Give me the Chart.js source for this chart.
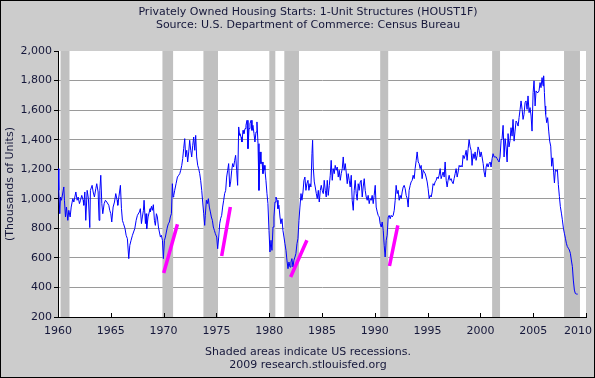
<!DOCTYPE html>
<html><head><meta charset="utf-8">
<script src="https://cdn.jsdelivr.net/npm/chart.js@4.4.1/dist/chart.umd.min.js"></script>
<style>html,body{margin:0;padding:0;background:#cccccc;}canvas{display:block;}</style>
</head><body>
<canvas id="c" width="595" height="378"></canvas>
<script>
// ---- text ----
const titleLines = ['Privately Owned Housing Starts: 1-Unit Structures (HOUST1F)', 'Source: U.S. Department of Commerce: Census Bureau'];
const footerLines = ['Shaded areas indicate US recessions.', '2009 research.stlouisfed.org'];
const yAxisTitle = '(Thousands of Units)';

// ---- ticks ----
const xTickYears = [1960, 1965, 1970, 1975, 1980, 1985, 1990, 1995, 2000, 2005, 2010];
const xTickLabels = ['1960', '1965', '1970', '1975', '1980', '1985', '1990', '1995', '2000', '2005', '2010'];
const yTickValues = [200, 400, 600, 800, 1000, 1200, 1400, 1600, 1800, 2000];
const yTickLabels = ['200', '400', '600', '800', '1,000', '1,200', '1,400', '1,600', '1,800', '2,000'];

// ---- recessions (decimal years) ----
const recessionStart = [1960.24, 1969.89, 1973.77, 1980.01, 1981.43, 1990.51, 2001.11, 2007.92];
const recessionEnd   = [1961.09, 1970.90, 1975.15, 1980.58, 1982.82, 1991.27, 2001.86, 2009.43];

// ---- magenta trend strokes ----
const trendStartYear  = [1970.01, 1975.50, 1982.03, 1991.39];
const trendStartValue = [498, 613, 471, 545];
const trendEndYear    = [1971.31, 1976.32, 1983.57, 1992.18];
const trendEndValue   = [827, 944, 719, 820];

// ---- housing starts series (decimal year, thousands of units) ----
const dates = [
1960.02,1960.08,1960.17,1960.24,1960.33,1960.55,1960.61,1960.71,1960.80,1960.93,1961.02,1961.15,1961.25,1961.40,1961.50,1961.69,1961.81,1961.91,1962.03,1962.13,1962.25,1962.38,1962.44,1962.54,1962.63,1962.76,1962.88,1963.01,1963.07,1963.23,1963.33,1963.45,1963.58,1963.67,1963.80,1963.89,1963.96,1964.05,1964.15,1964.24,1964.37,1964.49,1964.62,1964.81,1964.90,1965.00,1965.09,1965.22,1965.35,1965.47,1965.60,1965.66,1965.91,1966.01,1966.10,1966.20,1966.35,1966.45,1966.57,1966.70,1966.80,1966.92,1967.05,1967.27,1967.40,1967.52,1967.71,1967.80,1967.90,1967.99,1968.09,1968.15,1968.28,1968.34,1968.40,1968.53,1968.72,
1968.75,1968.85,1968.94,1969.03,1969.13,1969.22,1969.32,1969.41,1969.51,1969.60,1969.70,1969.79,1969.89,1969.98,1970.08,1970.17,1970.26,1970.36,1970.45,1970.55,1970.64,1970.74,1970.83,1970.90,1970.96,1971.05,1971.18,1971.31,1971.43,1971.53,1971.62,1971.72,1971.81,1971.90,1972.00,1972.09,1972.19,1972.28,1972.38,1972.47,1972.57,1972.66,1972.76,1972.85,1972.95,1973.04,1973.13,1973.23,1973.32,1973.42,1973.51,1973.61,1973.70,1973.80,1973.89,1973.95,1974.05,1974.14,1974.24,1974.33,1974.43,1974.52,1974.62,1974.71,1974.81,1974.90,1975.03,1975.12,1975.22,1975.31,1975.40,1975.50,1975.59,1975.69,1975.78,1975.88,1975.97,1976.07,1976.16,1976.26,1976.35,1976.45,1976.54,1976.63,1976.73,1976.82,1976.92,1977.01,1977.11,1977.20,
1977.23,1977.33,1977.42,1977.52,1977.61,1977.71,1977.80,1977.90,1977.99,1978.09,1978.18,1978.28,1978.37,1978.46,1978.56,1978.65,1978.75,1978.84,1978.94,1979.03,1979.13,1979.22,1979.32,1979.41,1979.51,1979.60,1979.69,1979.79,1979.88,1979.98,1980.07,1980.17,1980.26,1980.36,1980.45,1980.55,1980.64,1980.74,1980.83,1980.92,1981.02,1981.11,1981.21,1981.30,1981.40,1981.49,1981.59,1981.68,1981.78,1981.87,1981.97,1982.06,1982.15,1982.25,1982.34,1982.44,1982.53,1982.63,1982.72,1982.82,1982.91,1983.01,1983.10,1983.20,1983.29,1983.38,1983.48,1983.57,1983.67,1983.76,1983.86,1983.95,1984.05,1984.11,1984.17,1984.27,1984.36,1984.46,1984.55,1984.65,1984.74,1984.84,1984.93,1985.02,1985.12,1985.21,1985.31,1985.40,1985.50,1985.59,1985.69,1985.78,
1985.87,1985.97,1986.06,1986.16,1986.25,1986.35,1986.44,1986.54,1986.63,1986.73,1986.82,1986.92,1987.01,1987.10,1987.20,1987.29,1987.39,1987.48,1987.58,1987.67,1987.77,1987.86,1987.96,1988.05,1988.14,1988.24,1988.33,1988.43,1988.52,1988.62,1988.71,1988.81,1988.90,1989.00,1989.09,1989.19,1989.28,1989.37,1989.47,1989.56,1989.66,1989.75,1989.85,1989.94,1990.04,1990.13,1990.23,1990.32,1990.42,1990.51,1990.61,1990.70,1990.80,1990.89,1990.98,1991.08,1991.17,1991.27,1991.36,1991.46,1991.55,1991.65,1991.74,1991.84,1991.93,1992.02,1992.12,1992.21,1992.31,1992.40,1992.50,1992.59,1992.69,1992.78,1992.88,1992.97,1993.07,1993.16,1993.25,1993.35,1993.44,1993.54,1993.63,1993.73,1993.82,1993.92,1994.01,1994.11,1994.20,1994.29,
1994.39,1994.48,1994.58,1994.67,1994.77,1994.86,1994.96,1995.05,1995.15,1995.24,1995.34,1995.43,1995.52,1995.62,1995.71,1995.81,1995.90,1996.00,1996.09,1996.19,1996.28,1996.38,1996.47,1996.57,1996.66,1996.76,1996.85,1996.94,1997.04,1997.13,1997.23,1997.32,1997.42,1997.51,1997.61,1997.70,1997.80,1997.89,1997.99,1998.08,1998.17,1998.27,1998.36,1998.46,1998.55,1998.65,1998.74,1998.84,1998.93,1999.03,1999.12,1999.21,1999.31,1999.40,1999.50,1999.59,1999.69,1999.78,1999.88,1999.97,2000.07,2000.16,2000.26,2000.35,2000.45,2000.54,2000.63,2000.73,2000.82,2000.92,2001.01,2001.11,2001.20,2001.30,2001.39,2001.49,2001.58,2001.67,2001.77,2001.86,2001.96,2002.05,2002.15,2002.24,2002.34,2002.43,2002.53,2002.62,2002.71,2002.81,
2002.90,2003.00,2003.09,2003.19,2003.28,2003.38,2003.47,2003.57,2003.66,2003.76,2003.85,2003.95,2004.04,2004.13,2004.23,2004.32,2004.42,2004.51,2004.61,2004.70,2004.80,2004.89,2004.99,2005.08,2005.18,2005.27,2005.36,2005.46,2005.55,2005.65,2005.74,2005.84,2005.93,2005.99,2006.06,2006.12,2006.18,2006.28,2006.37,2006.47,2006.56,2006.66,2006.75,2006.85,2006.94,2007.01,2007.10,2007.19,2007.29,2007.38,2007.48,2007.57,2007.67,2007.76,2007.86,2007.95,2008.05,2008.14,2008.23,2008.33,2008.42,2008.52,2008.61,2008.71,2008.80,2008.90,2008.99,2009.12,2009.21
];
const starts = [
1204,1057,899,1012,990,1080,990,877,944,854,922,877,944,1001,978,1046,990,1012,967,990,1023,990,956,1046,854,1057,1001,805,1057,1091,1046,1012,1068,1102,1046,854,1057,1159,967,899,967,990,978,956,922,899,843,944,978,1035,990,956,1091,933,854,832,798,753,730,595,685,719,753,798,854,888,911,933,832,877,922,990,832,899,798,877,933,
911,949,922,960,854,820,899,877,809,775,741,753,719,595,719,741,775,809,831,843,877,899,1102,1012,1023,1057,1102,1147,1159,1170,1193,1226,1272,1339,1407,1283,1328,1249,1317,1396,1328,1283,1362,1418,1328,1429,1283,1226,1204,1170,1125,1057,978,899,820,888,990,967,1001,944,911,877,854,809,786,764,741,662,741,831,865,888,944,990,1035,1057,1147,1193,1238,1080,1114,1193,1238,1215,1260,1294,1193,1091,1486,1429,
1441,1418,1384,1463,1441,1475,1497,1531,1339,1475,1508,1531,1463,1497,1441,1384,1452,1520,1373,1057,1317,1238,1249,1170,1226,1193,1125,1035,967,786,640,719,651,809,877,978,1012,990,933,956,877,831,865,786,741,696,651,584,527,572,538,572,595,538,584,606,629,696,730,854,944,1035,990,1046,1125,1147,1057,1102,1125,1057,1102,1080,1305,1396,1215,1114,1080,1035,1001,1057,978,1057,1091,1057,1035,1125,1057,1012,1125,1023,1091,1159,
1260,1125,1204,1170,1226,1193,1215,1147,1193,1125,1170,1204,1283,1193,1238,1181,1102,1170,1125,1080,1159,990,922,1057,1125,1035,990,1102,1057,1114,1125,1012,1080,1136,1057,1012,990,1023,967,1001,990,1023,967,1023,1091,944,911,888,877,831,809,843,786,685,606,719,753,877,888,865,888,877,888,922,990,1091,1035,1057,990,1023,1001,1046,1080,1091,1068,1023,1001,944,1057,1091,1114,1125,1159,1136,1204,1260,1317,1249,1238,1204,
1226,1136,1193,1181,1170,1147,1114,1068,1001,1023,1012,1046,1102,1091,1114,1125,1147,1136,1159,1204,1136,1159,1181,1147,1249,1125,1080,1125,1159,1125,1136,1114,1102,1136,1170,1204,1147,1181,1226,1215,1226,1215,1294,1272,1294,1328,1260,1339,1400,1351,1328,1226,1305,1272,1317,1260,1294,1351,1328,1283,1317,1283,1238,1181,1147,1215,1238,1215,1238,1249,1215,1272,1305,1283,1283,1283,1272,1260,1249,1283,1396,1407,1497,1283,1407,1351,1249,1441,1351,1396,
1481,1424,1537,1390,1458,1526,1515,1492,1549,1605,1662,1605,1537,1571,1651,1662,1605,1696,1583,1617,1560,1458,1719,1798,1628,1730,1719,1719,1730,1786,1752,1820,1764,1832,1719,1628,1571,1515,1549,1458,1390,1356,1220,1277,1175,1107,1197,1186,1197,1096,1016,948,903,858,801,767,733,699,677,665,654,631,586,541,450,382,359,355,355
];

// ---- styles ----
const TEXT = '#15173a';
const FONT = '11px "DejaVu Sans", Verdana, sans-serif';
const BG = '#cccccc';
const BAND = '#c0c0c0';
const GRID = '#9a9a9a';
const TEXT_CENTER_X = 308;

const seriesPoints = dates.map((d, i) => ({ x: d, y: starts[i] }));
const trendPoints = [];
trendStartYear.forEach((x0, i) => {
  trendPoints.push({ x: x0, y: trendStartValue[i] });
  trendPoints.push({ x: trendEndYear[i], y: trendEndValue[i] });
  trendPoints.push({ x: trendEndYear[i] + 0.01, y: null });
});

const decor = {
  id: 'decor',
  beforeDraw(chart) {
    const { ctx, chartArea: a, width, height } = chart;
    ctx.save();
    ctx.fillStyle = BG;
    ctx.fillRect(0, 0, width, height);
    ctx.fillStyle = '#ffffff';
    ctx.fillRect(a.left, a.top, a.right - a.left, a.bottom - a.top);
    ctx.restore();
  },
  beforeDatasetsDraw(chart) {
    const { ctx, chartArea: a, scales: { x } } = chart;
    ctx.save();
    ctx.fillStyle = BAND;
    recessionStart.forEach((s, i) => {
      const x0 = Math.max(a.left + 1, x.getPixelForValue(s));
      const x1 = Math.min(a.right, x.getPixelForValue(recessionEnd[i]));
      ctx.fillRect(x0, a.top, x1 - x0, a.bottom - a.top);
    });
    ctx.restore();
  },
  afterDraw(chart) {
    const { ctx, chartArea: a, scales: { x }, width, height } = chart;
    ctx.save();
    // inward x ticks
    ctx.strokeStyle = '#000';
    ctx.lineWidth = 1;
    xTickYears.forEach(v => {
      const px = Math.round(x.getPixelForValue(v)) + 0.5;
      ctx.beginPath();
      ctx.moveTo(px, a.bottom);
      ctx.lineTo(px, a.bottom - 4);
      ctx.stroke();
    });
    // texts
    ctx.fillStyle = TEXT;
    ctx.font = FONT;
    ctx.textBaseline = 'alphabetic';
    ctx.textAlign = 'center';
    xTickYears.forEach((v, i) => {
      const w = ctx.measureText(xTickLabels[i]).width;
      const px = Math.min(x.getPixelForValue(v), width - 3 - w / 2);
      ctx.fillText(xTickLabels[i], px, a.bottom + 17);
    });
    ctx.fillText(titleLines[0], TEXT_CENTER_X, 15);
    ctx.fillText(titleLines[1], TEXT_CENTER_X, 28);
    ctx.fillText(footerLines[0], TEXT_CENTER_X, 355);
    ctx.fillText(footerLines[1], TEXT_CENTER_X, 368);
    // outer frame
    ctx.strokeStyle = '#000';
    ctx.strokeRect(0.5, 0.5, width - 1, height - 1);
    ctx.restore();
  }
};

new Chart(document.getElementById('c'), {
  type: 'line',
  data: {
    datasets: [
      { data: trendPoints, borderColor: '#ff00ff', borderWidth: 3.5, pointRadius: 0, spanGaps: false, tension: 0, borderCapStyle: 'butt' },
      { data: seriesPoints, borderColor: '#0000ff', borderWidth: 1, pointRadius: 0, tension: 0 }
    ]
  },
  options: {
    responsive: false,
    animation: false,
    devicePixelRatio: 1,
    parsing: false,
    events: [],
    layout: { padding: { top: 51, right: 9, bottom: 0, left: 0 } },
    plugins: { legend: { display: false }, tooltip: { enabled: false }, title: { display: false } },
    scales: {
      x: {
        type: 'linear', min: 1960, max: 2010,
        ticks: { display: false },
        grid: { display: false },
        border: { display: true, color: '#000', width: 1 },
        afterFit(s) { s.height = 61; }
      },
      y: {
        type: 'linear', min: 200, max: 2000,
        afterBuildTicks(s) { s.ticks = yTickValues.map(v => ({ value: v })); },
        ticks: {
          color: TEXT, padding: 2, autoSkip: false,
          font: { family: '"DejaVu Sans", Verdana, sans-serif', size: 11 },
          callback: (v, i) => yTickLabels[i]
        },
        grid: {
          color: c => (c.tick && (c.tick.value === 2000 || c.tick.value === 200)) ? 'rgba(0,0,0,0)' : GRID,
          tickColor: '#000', tickLength: 4, lineWidth: 1
        },
        border: { display: true, color: '#000', width: 1 },
        title: {
          display: true, text: yAxisTitle, color: TEXT,
          font: { family: '"DejaVu Sans", Verdana, sans-serif', size: 11 },
          padding: { top: 4, bottom: 0 }
        },
        afterFit(s) { s.width = 58; }
      }
    }
  },
  plugins: [decor]
});
</script>
</body></html>
